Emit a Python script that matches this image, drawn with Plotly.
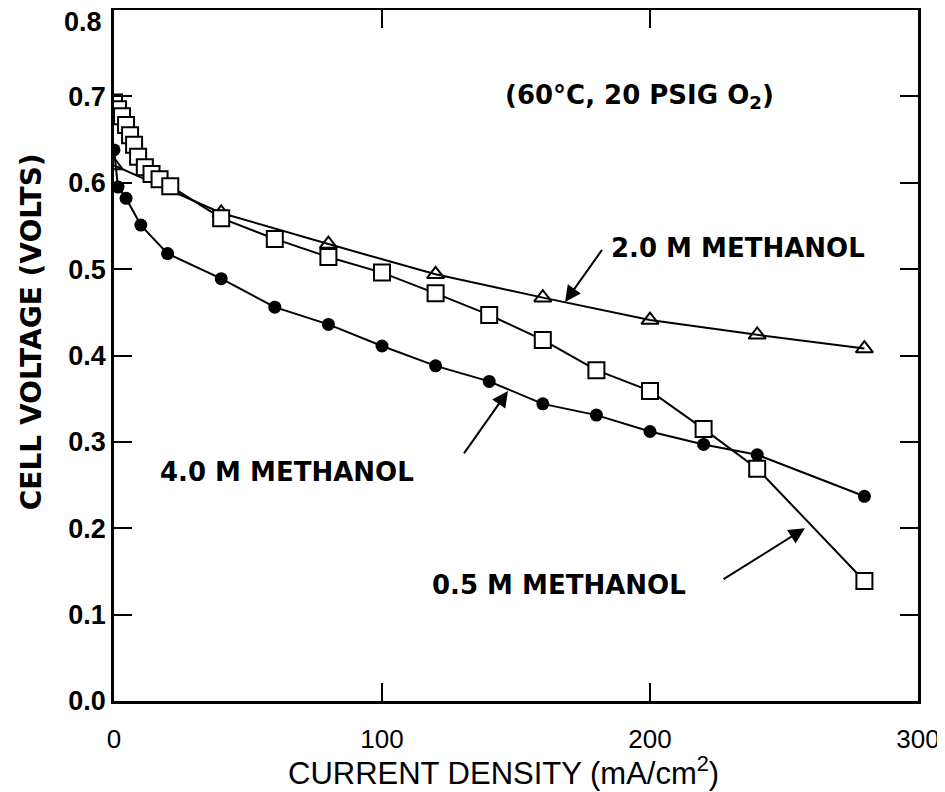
import plotly.graph_objects as go

# 2.0 M methanol (open triangles)
x_2m = [0, 40, 80, 120, 160, 200, 240, 280]
y_2m = [0.620, 0.565, 0.529, 0.494, 0.467, 0.441, 0.424, 0.408]

# 4.0 M methanol (filled circles)
x_4m = [0, 1.5, 4.5, 10, 20, 40, 60, 80, 100, 120, 140, 160, 180, 200, 220, 240, 280]
y_4m = [0.638, 0.595, 0.582, 0.551, 0.518, 0.489, 0.456, 0.436, 0.411, 0.388,
        0.370, 0.344, 0.331, 0.312, 0.297, 0.285, 0.237]

# 0.5 M methanol (open squares)
x_05m = [0, 1.5, 3, 4.5, 6, 7.5, 9, 11.5, 14, 17, 21, 40, 60, 80, 100, 120,
         140, 160, 180, 200, 220, 240, 280]
y_05m = [0.693, 0.685, 0.677, 0.667, 0.655, 0.644, 0.630, 0.618, 0.610, 0.604,
         0.596, 0.559, 0.535, 0.514, 0.496, 0.472, 0.447, 0.418, 0.383, 0.359,
         0.315, 0.269, 0.139]

x_ticks = [0, 100, 200, 300]
y_ticks = [0.0, 0.1, 0.2, 0.3, 0.4, 0.5, 0.6, 0.7, 0.8]
y_tick_text = ["0.0", "0.1", "0.2", "0.3", "0.4", "0.5", "0.6", "0.7", "0.8"]

FONT = "Liberation Sans, Arial, sans-serif"
WIDE = "DejaVu Sans, Liberation Sans, sans-serif"

fig = go.Figure()

fig.add_trace(go.Scatter(
    x=x_2m, y=y_2m, mode="lines+markers", name="2.0 M",
    line=dict(color="black", width=2),
    marker=dict(symbol="triangle-up-open", size=15, color="black",
                line=dict(width=2, color="black")),
))
fig.add_trace(go.Scatter(
    x=x_4m, y=y_4m, mode="lines+markers", name="4.0 M",
    line=dict(color="black", width=2),
    marker=dict(symbol="circle", size=13, color="black"),
))
fig.add_trace(go.Scatter(
    x=x_05m, y=y_05m, mode="lines+markers", name="0.5 M",
    line=dict(color="black", width=2),
    marker=dict(symbol="square", size=16, color="white",
                line=dict(width=2, color="black")),
))

annots = [
    dict(x=196, y=0.700, text="(60°C, 20 PSIG O<sub>2</sub>)"),
    dict(x=233, y=0.524, text="2.0 M METHANOL"),
    dict(x=64.5, y=0.265, text="4.0 M METHANOL"),
    dict(x=166, y=0.134, text="0.5 M METHANOL"),
]
for a in annots:
    fig.add_annotation(x=a["x"], y=a["y"], text=a["text"], showarrow=False,
                       xref="x", yref="y",
                       font=dict(family=WIDE, size=26, color="black", weight="bold"))

arrows = [
    ((182.5, 0.524), (168.3, 0.462)),
    ((130.2, 0.285), (147.0, 0.359)),
    ((226.9, 0.140), (257.8, 0.200)),
]
for (tx, ty), (hx, hy) in arrows:
    fig.add_annotation(x=hx, y=hy, ax=tx, ay=ty, xref="x", yref="y",
                       axref="x", ayref="y", text="", showarrow=True,
                       arrowhead=2, arrowsize=1.6, arrowwidth=2,
                       arrowcolor="black")

# top tick label (sits just below the frame corner, as in the original)
fig.add_annotation(x=0, y=y_ticks[-1], xref="paper", yref="y",
                   text=y_tick_text[-1], showarrow=False,
                   xanchor="right", yanchor="middle", xshift=-10, yshift=-12,
                   font=dict(family=FONT, size=27, color="black", weight="bold"))

# x-axis title
fig.add_annotation(x=0.485, y=-0.102, xref="paper", yref="paper",
                   text="CURRENT DENSITY (mA/cm<sup>2</sup>)", showarrow=False,
                   xanchor="center", yanchor="middle",
                   font=dict(family=FONT, size=31, color="black"))

# y-axis title
fig.add_annotation(x=-0.103, y=0.534, xref="paper", yref="paper",
                   text="CELL VOLTAGE (VOLTS)", showarrow=False, textangle=-90,
                   xanchor="center", yanchor="middle",
                   font=dict(family=WIDE, size=28, color="black", weight="bold"))

# page body adds an 8px margin; size the figure so the plot box lands where the original's does
fig.update_layout(
    width=937, height=784,
    margin=dict(l=106, r=27, t=2, b=91),
    paper_bgcolor="white", plot_bgcolor="white",
    showlegend=False,
    font=dict(family=FONT, color="black"),
)
fig.update_xaxes(
    range=[0, 300], tickvals=x_ticks, ticktext=[str(v) for v in x_ticks],
    ticks="inside", ticklen=18, tickwidth=1.5, tickcolor="black",
    showline=True, linecolor="black", linewidth=2.5, mirror="ticks",
    showgrid=False, zeroline=False, automargin=False,
    tickfont=dict(family=FONT, size=26, color="black"),
    ticklabelstandoff=13,
)
fig.update_yaxes(
    range=[0, 0.8], tickvals=y_ticks, ticktext=y_tick_text[:-1] + [""],
    ticks="inside", ticklen=18, tickwidth=1.5, tickcolor="black",
    showline=True, linecolor="black", linewidth=2.5, mirror="ticks",
    showgrid=False, zeroline=False, automargin=False,
    tickfont=dict(family=FONT, size=27, color="black", weight="bold"),
    ticklabelstandoff=0,
)

fig.write_html("out.html")
